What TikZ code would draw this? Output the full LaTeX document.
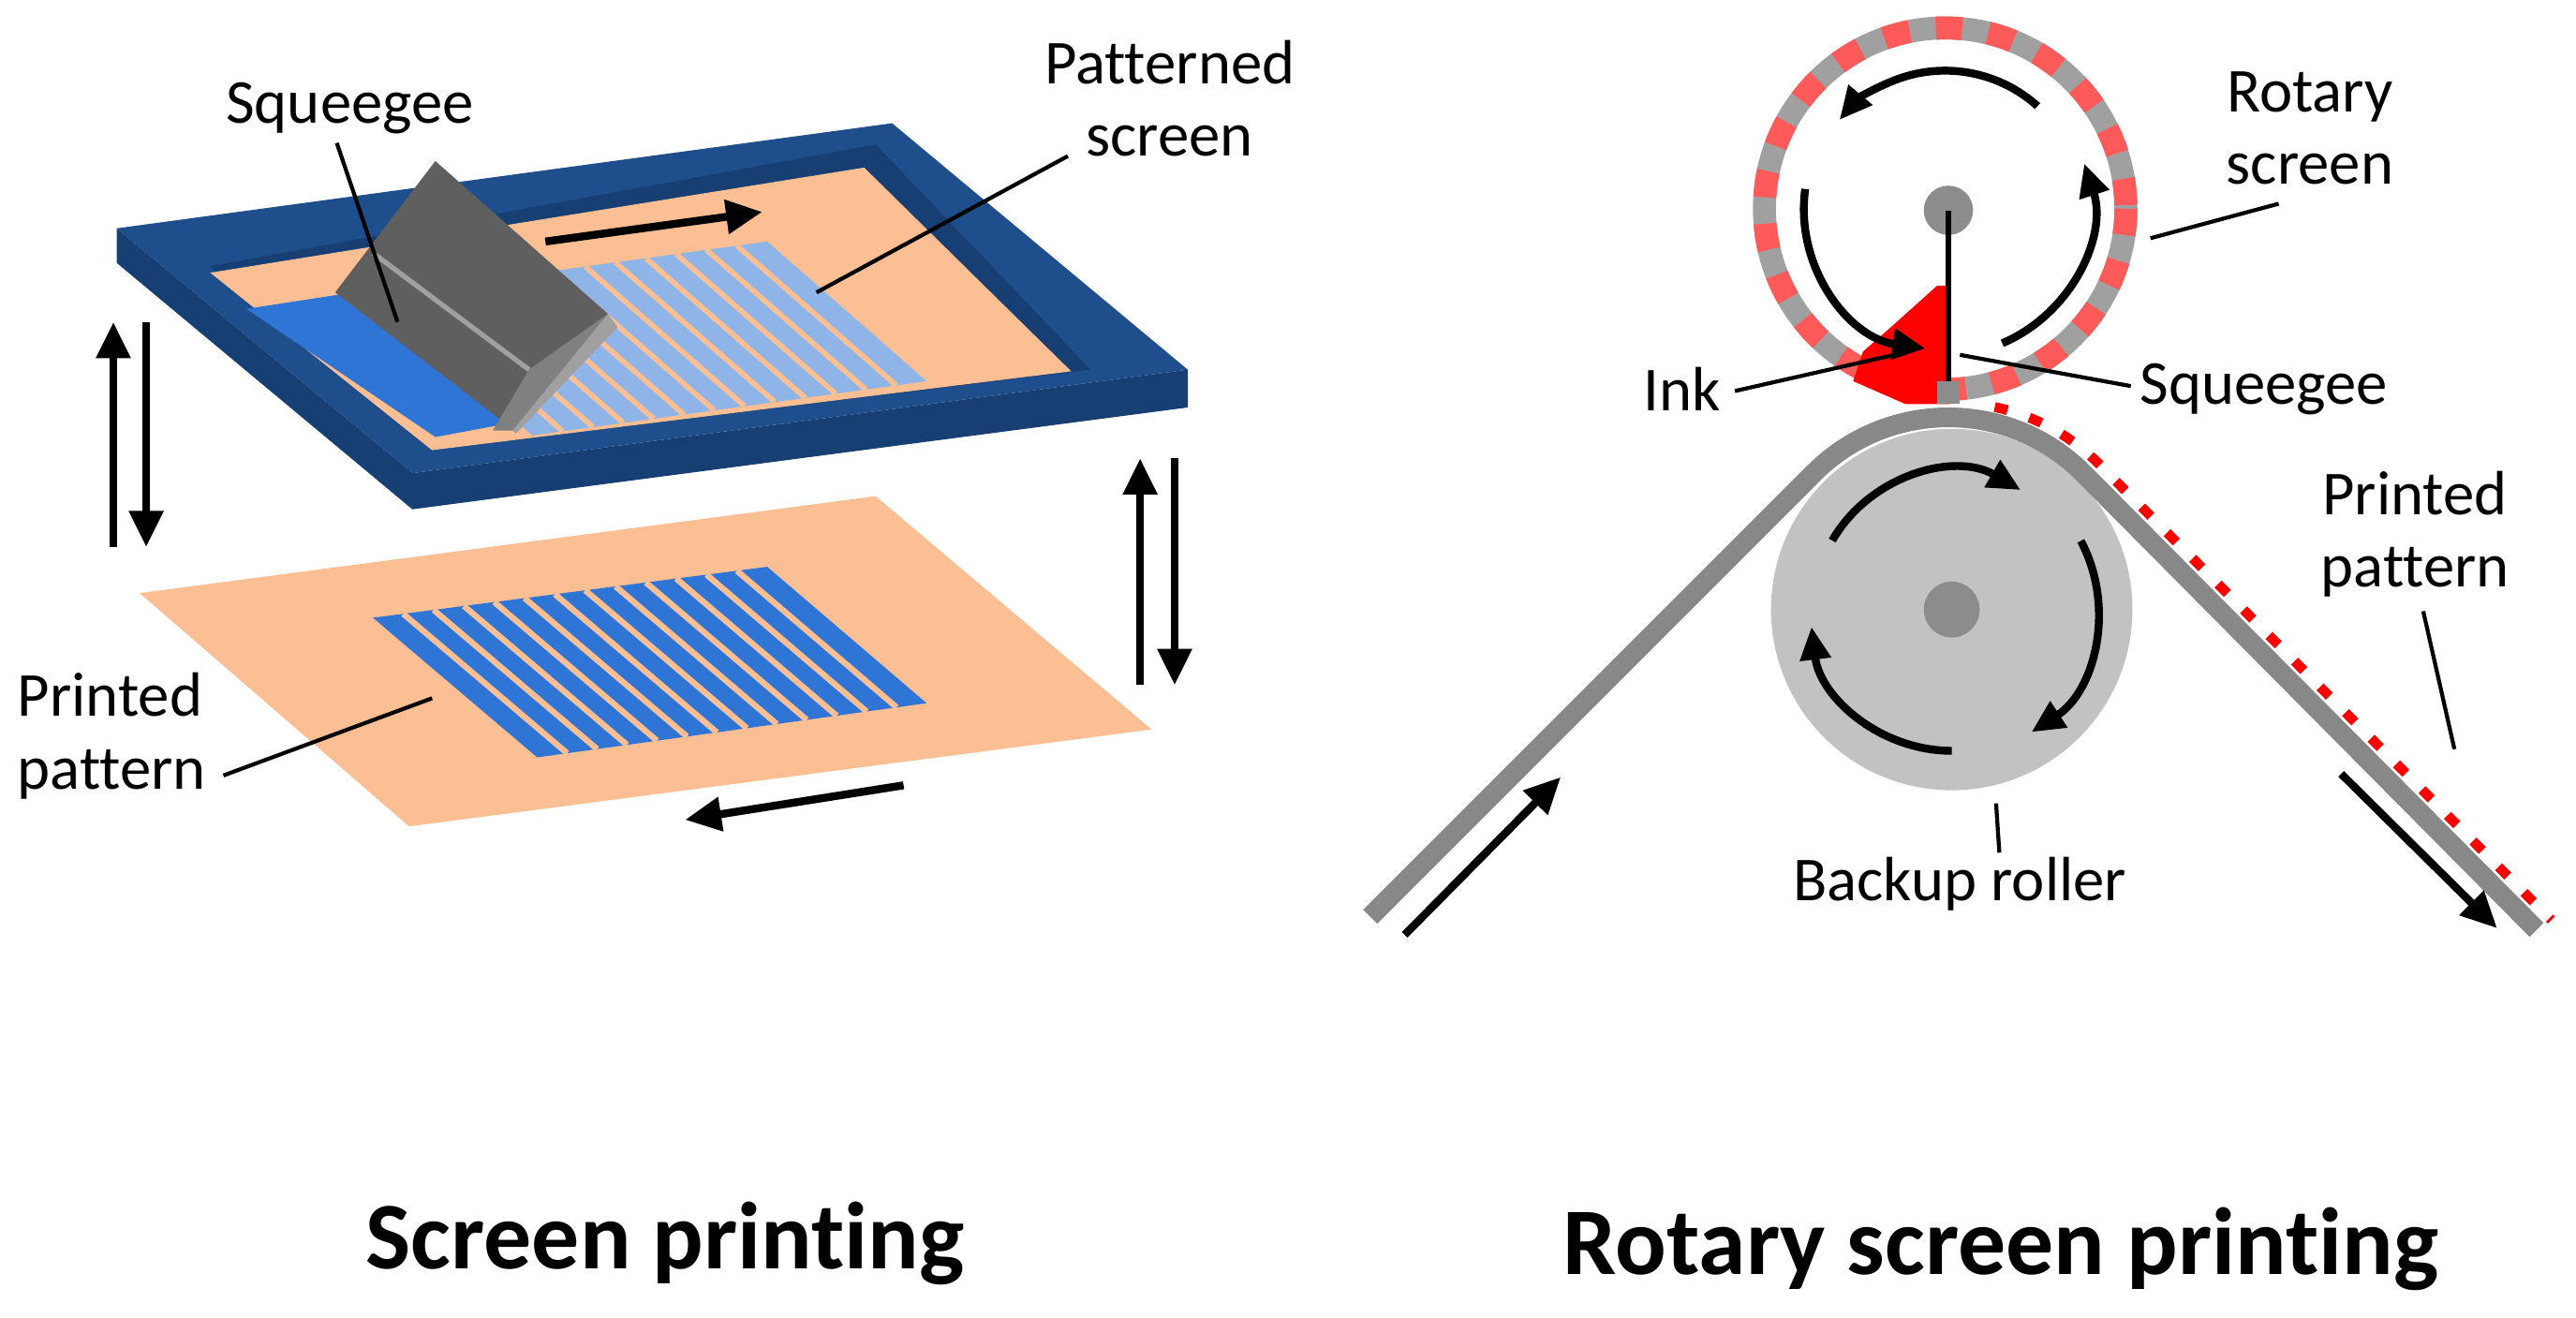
\documentclass[tikz,border=0pt]{standalone}
\usepackage{fontspec}
\setmainfont[Ligatures=NoCommon]{Carlito}
\usetikzlibrary{arrows.meta,calc}
\definecolor{frameblue}{HTML}{1F4E8C}
\definecolor{framedark}{HTML}{173F73}
\definecolor{sand}{HTML}{FBBF93}
\definecolor{inkblue}{HTML}{2E75D6}
\definecolor{lightblue}{HTML}{8FB4E8}
\definecolor{sq}{HTML}{5F5F5F}
\definecolor{sqlight}{HTML}{A0A0A0}
\definecolor{ringred}{HTML}{FF5A5A}
\definecolor{ringgray}{HTML}{A0A0A0}
\definecolor{roll}{HTML}{C2C2C2}
\definecolor{hub}{HTML}{8C8C8C}
\definecolor{web}{HTML}{888888}
\begin{document}
\begin{tikzpicture}[x=0.01754cm,y=-0.01754cm,
  lbl/.style={font=\fontsize{19}{22}\selectfont,align=center,inner sep=0pt},
  ttl/.style={font=\bfseries\fontsize{29}{33}\selectfont,inner sep=0pt},
  lead/.style={line width=1.2pt},
  bigarr/.style={line width=2.4pt,-{Triangle[length=11pt,width=10pt]}},
  rotarr/.style={line width=2.4pt,-{Triangle[length=10pt,width=9pt]}}]
\useasboundingbox (0,0) rectangle (1568,802);
% ---------- Screen printing ----------
\fill[sand] (85,361) -- (533,302) -- (701,444) -- (249,503) -- cycle;
\coordinate (pA) at (227,376); \coordinate (pB) at (467,345);
\coordinate (pC) at (564,428); \coordinate (pD) at (327,461);
\fill[inkblue] (pA) -- (pB) -- (pC) -- (pD) -- cycle;
\foreach \t in {1,...,12}{
  \draw[sand,line width=1.8pt] ($(pA)!\t/13!(pB)$) -- ($(pD)!\t/13!(pC)$);}
% frame
\fill[frameblue] (71,139) -- (543,75) -- (723,225) -- (251,288) -- cycle;
\fill[framedark] (71,139) -- (251,288) -- (251,310) -- (71,160) -- cycle;
\fill[framedark] (251,288) -- (723,225) -- (723,248) -- (251,310) -- cycle;
\fill[framedark] (128,162) -- (533,88) -- (664,225) -- (263,274) -- cycle;
\fill[sand] (128,166) -- (526,102) -- (652,226) -- (263,274) -- cycle;
% screen pattern
\coordinate (sA) at (227,180); \coordinate (sB) at (467,147);
\coordinate (sC) at (564,232); \coordinate (sD) at (324,265);
\fill[lightblue] (sA) -- (sB) -- (sC) -- (sD) -- cycle;
\foreach \t in {1,...,12}{
  \draw[sand,line width=1.6pt] ($(sA)!\t/13!(sB)$) -- ($(sD)!\t/13!(sC)$);}
% ink
\fill[inkblue] (150,188) -- (215,178) -- (308,258) -- (265,266) -- cycle;
% squeegee
\fill[sq] (204,178) -- (265,98) -- (370,191) -- (308,258) -- cycle;
\fill[sqlight] (308,258) -- (370,191) -- (376,199) -- (314,264) -- cycle;
\fill[sqlight!80!black] (322,225) -- (370,191) -- (312,262) -- (300,262) -- cycle;
\draw[sqlight,line width=1.5pt] (227,154) -- (322,225);
% arrows
\coordinate (a1s) at (332,147); \coordinate (a1e) at (464,129);
\draw[bigarr] (a1s) -- (a1e);
\coordinate (a2s) at (69,333); \coordinate (a2e) at (69,196);
\draw[bigarr] (a2s) -- (a2e);
\coordinate (a3s) at (89,196); \coordinate (a3e) at (89,333);
\draw[bigarr] (a3s) -- (a3e);
\coordinate (a4s) at (694,417); \coordinate (a4e) at (694,279);
\draw[bigarr] (a4s) -- (a4e);
\coordinate (a5s) at (715,279); \coordinate (a5e) at (715,417);
\draw[bigarr] (a5s) -- (a5e);
\coordinate (a6s) at (550,478); \coordinate (a6e) at (417,499);
\draw[bigarr] (a6s) -- (a6e);
% labels
\node[lbl] (lsq) at (213,66) {Squeegee};
\coordinate (lsqe) at (242,196);
\draw[lead] (205,87) -- (lsqe);
\node[lbl] (lps) at (712,60) {Patterned\\screen};
\coordinate (lpse) at (497,178);
\draw[lead] (650,95) -- (lpse);
\node[lbl,align=left] (lpp) at (68,448) {Printed\\pattern};
\coordinate (lppe) at (263,425);
\draw[lead] (136,472) -- (lppe);
\node[ttl] (t1) at (405,757) {Screen printing};
% ---------- Rotary screen printing ----------
\coordinate (rc) at (1184,127);
\draw[ringgray,line width=7pt] (rc) circle[radius=110];
\draw[ringred,line width=7pt,dash pattern=on 8pt off 8pt] (rc) circle[radius=110];
% ink
\fill[red] (1179,174) -- (1150,200) -- (1134,214) -- (1128,232) -- (1160,246) -- (1187,246) -- (1187,174) -- cycle;
\fill[hub] (1186,128) circle[radius=15];
\draw[line width=1.8pt] (1186,128) -- (1186,232);
\fill[hub] (1179,232) rectangle (1193,246);
% rotary arrows
\draw[rotarr] ($(rc)+(-48:84)$) arc[start angle=-48,end angle=-140,radius=84];
\draw[rotarr] ($(rc)+(188:86)$) arc[start angle=188,end angle=98,radius=86];
\draw[rotarr] ($(rc)+(67:89)$) arc[start angle=67,end angle=-18,radius=89];
% roller
\coordinate (bc) at (1188,371);
\fill[roll] (bc) circle[radius=110];
\fill[hub] (bc) circle[radius=17];
% web
\draw[web,line width=6pt] (834,558) -- (1104,288) arc[start angle=225,end angle=315,radius=116] -- (1544,566);
\draw[red,line width=3pt,dash pattern=on 4pt off 7pt] ($(bc)+(282:126)$) arc[start angle=282,end angle=315,radius=126] -- (1553,560);
% roller arrows
\draw[rotarr] ($(bc)+(210:84)$) arc[start angle=210,end angle=300,radius=84];
\draw[rotarr] ($(bc)+(-28:89)$) arc[start angle=-28,end angle=57,radius=89];
\draw[rotarr] ($(bc)+(90:86)$) arc[start angle=90,end angle=173,radius=86];
% web arrows
\coordinate (w1s) at (855,569); \coordinate (w1e) at (950,473);
\draw[bigarr] (w1s) -- (w1e);
\coordinate (w2s) at (1425,471); \coordinate (w2e) at (1520,565);
\draw[bigarr] (w2s) -- (w2e);
% labels
\node[lbl] (lrs) at (1406,78) {Rotary\\screen};
\coordinate (lrse) at (1309,145);
\draw[lead] (1387,124) -- (lrse);
\node[lbl] (link) at (1024,237) {Ink};
\coordinate (linke) at (1153,216);
\draw[lead] (1056,238) -- (linke);
\node[lbl] (lsq2) at (1378,237) {Squeegee};
\coordinate (lsq2e) at (1193,216);
\draw[lead] (1297,235) -- (lsq2e);
\node[lbl] (lpp2) at (1470,325) {Printed\\pattern};
\coordinate (lpp2e) at (1494,456);
\draw[lead] (1475,372) -- (lpp2e);
\node[lbl] (lbr) at (1193,538) {Backup roller};
\coordinate (lbre) at (1217,519);
\draw[lead] (1215,489) -- (lbre);
\node[ttl] (t2) at (1218,760) {Rotary screen printing};
\end{tikzpicture}
\end{document}
